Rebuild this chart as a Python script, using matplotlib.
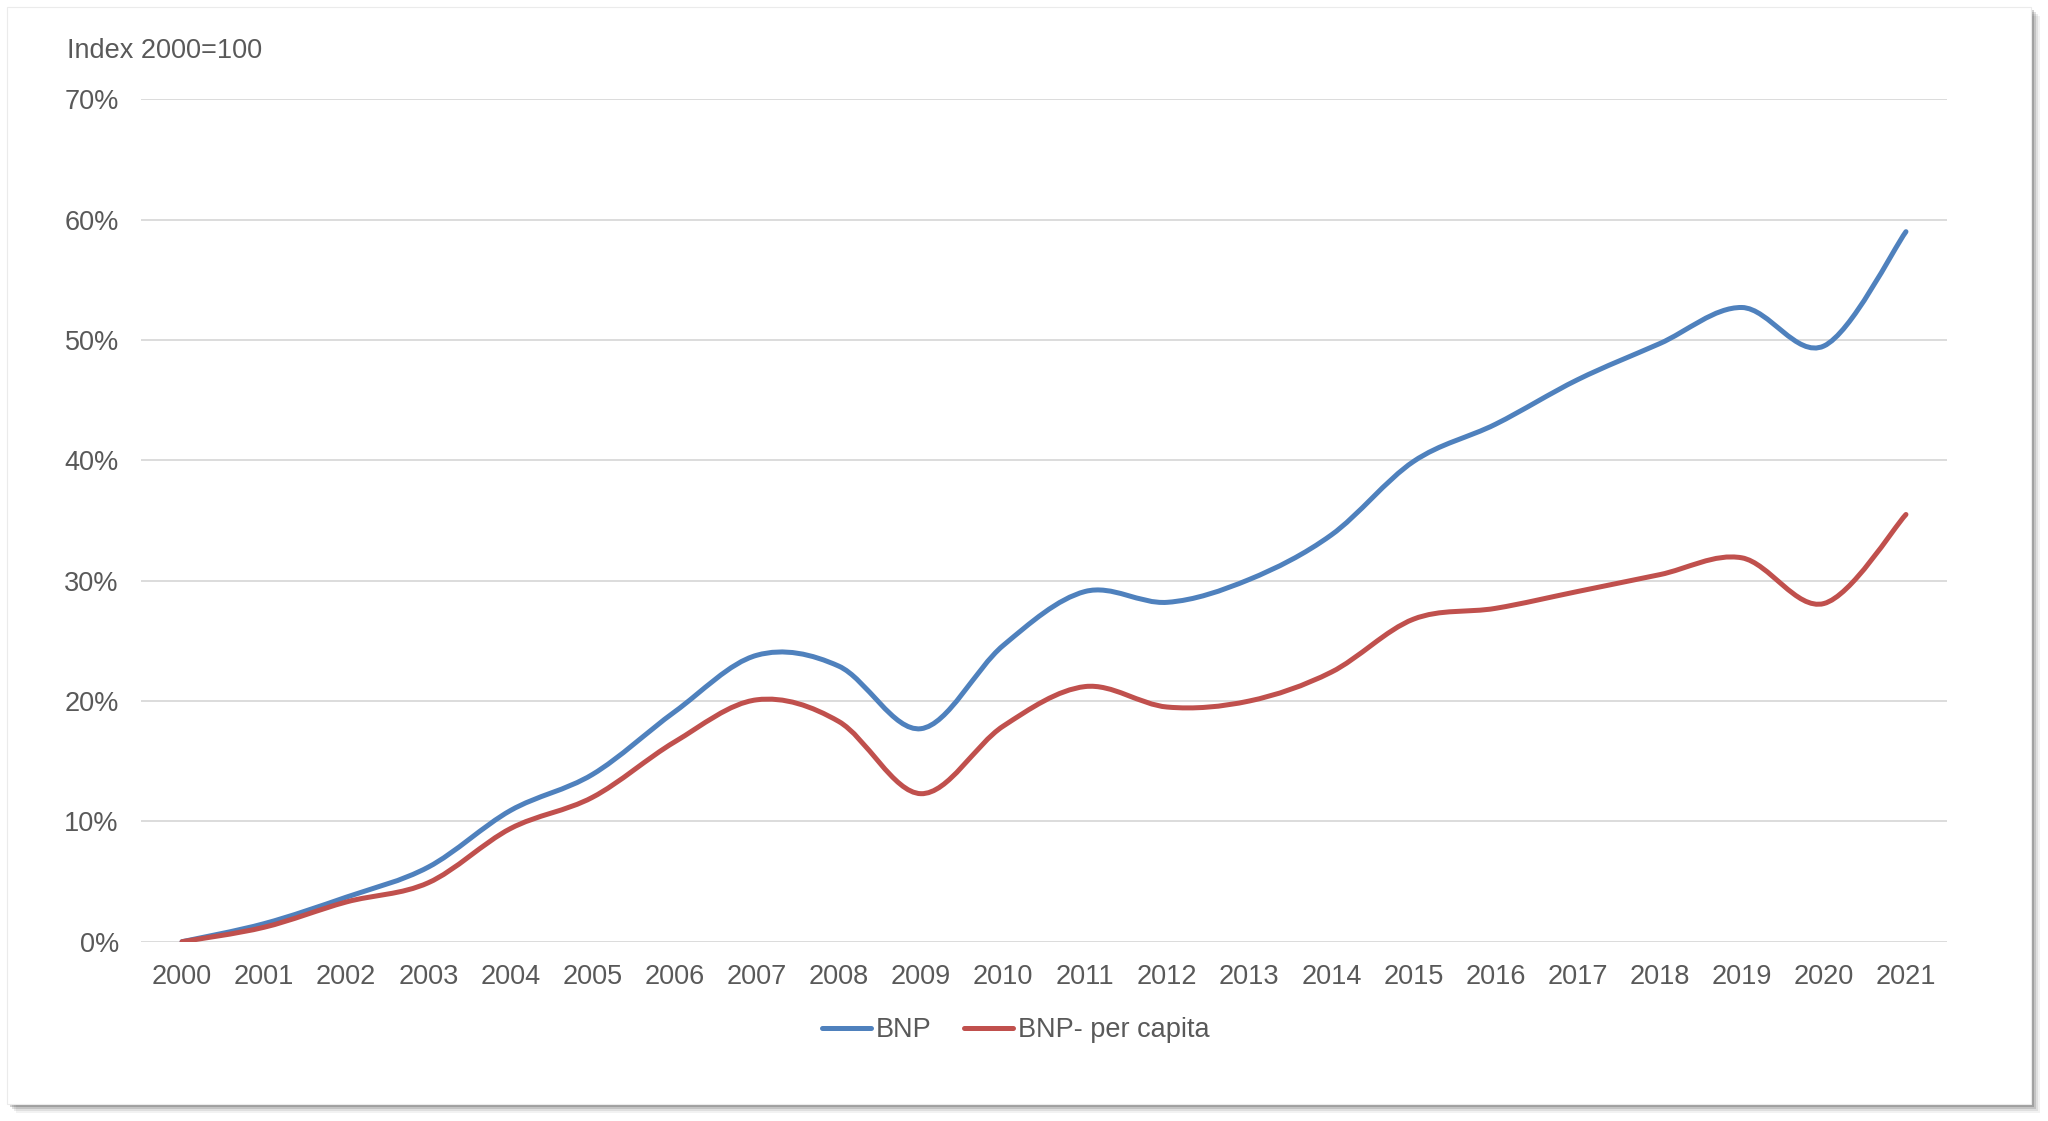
import numpy as np
import matplotlib.pyplot as plt
from matplotlib.path import Path
from matplotlib.patches import PathPatch, Rectangle
from matplotlib.lines import Line2D
from matplotlib.ticker import FuncFormatter

plt.rcParams['font.family'] = ['Liberation Sans', 'DejaVu Sans']

# data (percent change, index 2000=100)
years = ['2000', '2001', '2002', '2003', '2004', '2005', '2006', '2007', '2008', '2009', '2010',
         '2011', '2012', '2013', '2014', '2015', '2016', '2017', '2018', '2019', '2020', '2021']
bnp = [0.0, 1.5, 3.7, 6.2, 10.9, 13.9, 19.1, 23.8, 22.9, 17.7, 24.6,
       29.1, 28.2, 30.1, 33.8, 39.9, 43.0, 46.7, 49.7, 52.7, 49.5, 59.0]
bnp_capita = [0.0, 1.2, 3.3, 4.9, 9.4, 12.0, 16.6, 20.1, 18.3, 12.3, 17.9,
              21.2, 19.5, 20.0, 22.4, 26.8, 27.7, 29.1, 30.5, 31.9, 28.1, 35.5]

blue = '#4F81BD'
red = '#C0504D'
txt = '#595959'


def smooth_path(xs, ys):
    # Excel style smoothed line: cubic bezier through every data point
    pts = np.column_stack([xs, ys]).astype(float)
    n = len(pts)
    verts = [pts[0]]
    codes = [Path.MOVETO]
    for i in range(n - 1):
        p0 = pts[i - 1] if i > 0 else pts[i]
        p1 = pts[i]
        p2 = pts[i + 1]
        p3 = pts[i + 2] if i + 2 < n else pts[i + 1]
        c1 = p1 + (p2 - p0) / 6.0
        c2 = p2 - (p3 - p1) / 6.0
        verts += [c1, c2, p2]
        codes += [Path.CURVE4] * 3
    return Path(verts, codes)


fig = plt.figure(figsize=(20.48, 11.21), dpi=100)
fig.patch.set_facecolor('white')

# card with drop shadow
W, H = 2048, 1121
for k, a in enumerate([0.05, 0.08, 0.12, 0.18]):
    off = 9 - 2 * k
    fig.patches.append(Rectangle(((7 + off) / W, 1 - (1104 + off) / H), (2024) / W, (1097) / H,
                                 transform=fig.transFigure, facecolor='#000000', alpha=a,
                                 edgecolor='none', zorder=0))
fig.patches.append(Rectangle((7 / W, 1 - 1104 / H), 2024 / W, 1097 / H,
                             transform=fig.transFigure, facecolor='white',
                             edgecolor='#EBEBEB', linewidth=0.8, zorder=1))

ax = fig.add_axes([141 / W, 1 - 941.7 / H, (1947 - 141) / W, (941.7 - 99.3) / H])
ax.set_facecolor('none')
ax.set_zorder(2)

x = np.arange(len(years))
for vals, col in [(bnp, blue), (bnp_capita, red)]:
    ax.add_patch(PathPatch(smooth_path(x, vals), facecolor='none', edgecolor=col,
                           linewidth=3.6, capstyle='round', joinstyle='round', zorder=3))

ax.set_xlim(-0.5, len(years) - 0.5)
ax.set_ylim(0, 70)
ax.set_yticks(np.arange(0, 71, 10))
ax.yaxis.set_major_formatter(FuncFormatter(lambda v, p: f'{v:.0f}%'))
ax.set_xticks(x)
ax.set_xticklabels(years)
ax.grid(axis='y', color='#D9D9D9', linewidth=1.3)
ax.set_axisbelow(True)
for s in ax.spines.values():
    s.set_visible(False)
ax.tick_params(axis='both', length=0, labelsize=19.5, labelcolor=txt)
ax.tick_params(axis='y', pad=16)
ax.tick_params(axis='x', pad=16)

fig.text(67 / W, 1 - 51 / H, 'Index 2000=100', fontsize=19.5, color=txt, va='center', ha='left')

handles = [Line2D([], [], color=blue, linewidth=3.6, solid_capstyle='round'),
           Line2D([], [], color=red, linewidth=3.6, solid_capstyle='round')]
fig.legend(handles, ['BNP', 'BNP- per capita'], loc='center', bbox_to_anchor=(1016 / W, 1 - 1030 / H),
           ncol=2, frameon=False, fontsize=19.5, labelcolor=txt, handlelength=1.8,
           handletextpad=0.2, columnspacing=1.2)

fig.savefig('out.png', dpi=100, facecolor='white')
